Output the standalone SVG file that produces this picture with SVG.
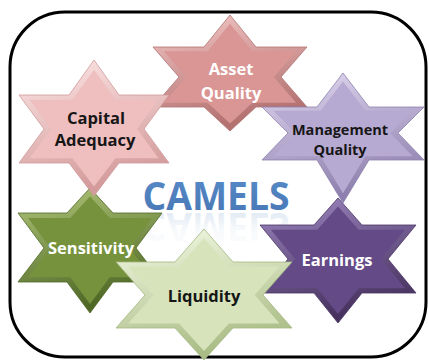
<svg xmlns="http://www.w3.org/2000/svg" xmlns:xlink="http://www.w3.org/1999/xlink" width="429" height="360" viewBox="0 0 429 360">
<style>
.lbl{font-family:"Open Sans","Liberation Sans",sans-serif;font-weight:bold;text-anchor:middle}
.dk{fill:#161616}
.wt{fill:#ffffff}
.frame{fill:#ffffff;stroke:#000000;stroke-width:3}
.edge{stroke-width:0.8;stroke-linejoin:round}
</style>
<defs>
<path id="sCap" d="M0,-69 L25,-34 L75,-34 L50,0 L75,34 L25,34 L0,67 L-25,34 L-75,34 L-50,0 L-75,-34 L-25,-34 Z"/>
<path id="sAss" d="M0,-62 L26,-30 L77,-30 L51,0 L77,30 L26,30 L0,54 L-26,30 L-77,30 L-51,0 L-77,-30 L-26,-30 Z"/>
<path id="sMan" d="M0,-60 L26,-26 L81,-26 L55,0 L81,27 L26,27 L0,70 L-26,27 L-81,27 L-55,0 L-81,-26 L-26,-26 Z"/>
<path id="sEar" d="M0,-61 L24,-34 L78,-34 L50,0 L78,34 L24,34 L0,64 L-24,34 L-78,34 L-50,0 L-78,-34 L-24,-34 Z"/>
<path id="sSen" d="M0,-60 L23,-35 L72,-35 L46,0 L72,34 L23,34 L0,65 L-23,34 L-72,34 L-46,0 L-72,-35 L-23,-35 Z"/>
<path id="sLiq" d="M0,-66 L29,-33 L88,-33 L59,0 L88,33 L29,33 L0,65 L-29,33 L-88,33 L-59,0 L-88,-33 L-29,-33 Z"/>
<linearGradient id="gCap" x1="0" y1="0" x2="0.3" y2="1"><stop offset="0" stop-color="#fde6e6"/><stop offset="1" stop-color="#d39b9b"/></linearGradient>
<linearGradient id="gAss" x1="0" y1="0" x2="0.3" y2="1"><stop offset="0" stop-color="#f2c7c6"/><stop offset="1" stop-color="#b37170"/></linearGradient>
<linearGradient id="gMan" x1="0" y1="0" x2="0.3" y2="1"><stop offset="0" stop-color="#e2daf1"/><stop offset="1" stop-color="#8e80ae"/></linearGradient>
<linearGradient id="gEar" x1="0" y1="0" x2="0.3" y2="1"><stop offset="0" stop-color="#9c86bf"/><stop offset="1" stop-color="#47325f"/></linearGradient>
<linearGradient id="gSen" x1="0" y1="0" x2="0.3" y2="1"><stop offset="0" stop-color="#b0c67a"/><stop offset="1" stop-color="#4f6826"/></linearGradient>
<linearGradient id="gLiq" x1="0" y1="0" x2="0.3" y2="1"><stop offset="0" stop-color="#f5fae6"/><stop offset="1" stop-color="#aabd86"/></linearGradient>
<linearGradient id="gBlue" x1="0" y1="0" x2="0" y2="1"><stop offset="0" stop-color="#5a8ccb"/><stop offset="1" stop-color="#4676b3"/></linearGradient>
<linearGradient id="gRefl" x1="0" y1="0" x2="0" y2="1"><stop offset="0" stop-color="#4f81bd" stop-opacity="0"/><stop offset="0.5" stop-color="#4f81bd" stop-opacity="0.05"/><stop offset="1" stop-color="#4f81bd" stop-opacity="0.25"/></linearGradient>
</defs>

<rect class="frame" x="10" y="12" width="416" height="345" rx="55" ry="55"/>

<g id="camels">
<text x="216" y="210" class="lbl" font-size="40" fill="url(#gBlue)" textLength="147" lengthAdjust="spacingAndGlyphs">CAMELS</text>
<text x="216" y="210" class="lbl" font-size="40" fill="url(#gRefl)" textLength="147" lengthAdjust="spacingAndGlyphs" transform="matrix(1,0,0,-1,0,423)">CAMELS</text>
</g>

<g id="connectors"></g>

<g id="asset-quality" transform="translate(230,77)">
<use xlink:href="#sAss" fill="url(#gAss)" stroke="#b07472" class="edge"/>
<use xlink:href="#sAss" fill="#d99694" transform="scale(0.86)"/>
<text class="lbl wt" x="1" y="-2" font-size="16.5">Asset</text>
<text class="lbl wt" x="1" y="22" font-size="16.5">Quality</text>
</g>

<g id="earnings" transform="translate(338,259)">
<use xlink:href="#sEar" fill="url(#gEar)" stroke="#4a3663" class="edge"/>
<use xlink:href="#sEar" fill="#644b88" transform="scale(0.86)"/>
<text class="lbl wt" x="-1" y="7" font-size="16.5">Earnings</text>
</g>

<g id="management-quality" transform="translate(343,133)">
<use xlink:href="#sMan" fill="url(#gMan)" stroke="#8d80ad" class="edge"/>
<use xlink:href="#sMan" fill="#b6a9d2" transform="scale(0.86)"/>
<text class="lbl dk" x="-3" y="2" font-size="14.5">Management</text>
<text class="lbl dk" x="-3" y="22" font-size="14.5">Quality</text>
</g>

<g id="sensitivity" transform="translate(90,248)">
<use xlink:href="#sSen" fill="url(#gSen)" stroke="#4f6826" class="edge"/>
<use xlink:href="#sSen" fill="#76923c" transform="scale(0.86)"/>
<text class="lbl wt" x="1" y="6" font-size="16.5">Sensitivity</text>
</g>

<g id="liquidity" transform="translate(204,295)">
<use xlink:href="#sLiq" fill="url(#gLiq)" stroke="#a5b882" class="edge"/>
<use xlink:href="#sLiq" fill="#d7e4bb" transform="scale(0.86)"/>
<text class="lbl dk" x="0" y="7" font-size="16.5">Liquidity</text>
</g>

<g id="capital-adequacy" transform="translate(94,129)">
<use xlink:href="#sCap" fill="url(#gCap)" stroke="#cf9a9a" class="edge"/>
<use xlink:href="#sCap" fill="#efbfbf" transform="scale(0.86)"/>
<text class="lbl dk" x="2" y="-5" font-size="16.5">Capital</text>
<text class="lbl dk" x="1" y="17" font-size="16.5">Adequacy</text>
</g>
</svg>
